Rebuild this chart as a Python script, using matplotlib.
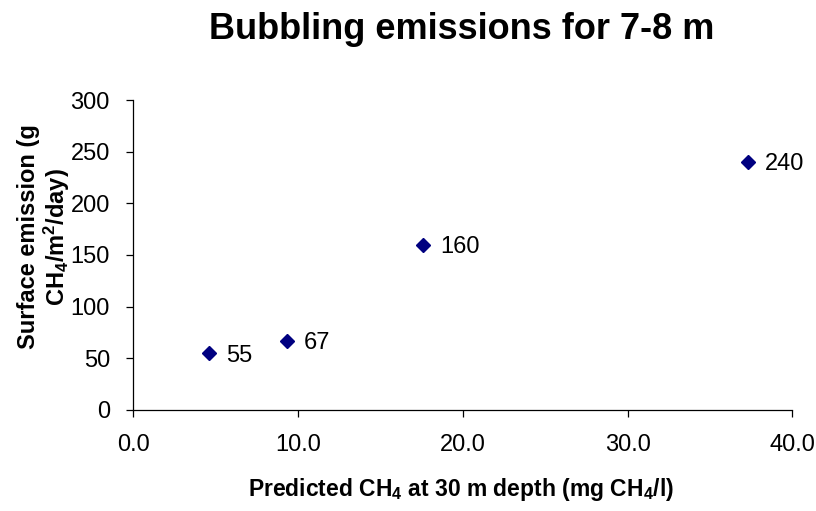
import matplotlib
matplotlib.use("Agg")
import matplotlib.pyplot as plt

# data
ch4_pred = [4.6, 9.3, 17.6, 37.3]        # predicted CH4 at 30 m (mg CH4/l)
emission = [55, 67, 160, 240]            # surface emission (g CH4/m2/day)
point_labels = ["55", "67", "160", "240"]

plt.rcParams['font.family'] = ['Liberation Sans', 'DejaVu Sans']
plt.rcParams['mathtext.fontset'] = 'custom'
plt.rcParams['mathtext.rm'] = 'Liberation Sans:bold'
plt.rcParams['mathtext.it'] = 'Liberation Sans:bold'
plt.rcParams['mathtext.bf'] = 'Liberation Sans:bold'
plt.rcParams['mathtext.default'] = 'rm'

fig = plt.figure(figsize=(8.16, 5.11), dpi=100)
ax = fig.add_axes([0.1636, 0.1977, 0.8076, 0.6066])

ax.plot(ch4_pred, emission, linestyle='none', marker='D', markersize=7.5,
        color='#000080', clip_on=False)
for x, y, t in zip(ch4_pred, emission, point_labels):
    ax.annotate(t, (x, y), xytext=(12, 0), textcoords='offset points',
                va='center_baseline', ha='left', fontsize=17)

ax.set_xlim(0, 40)
ax.set_ylim(0, 300)
ax.set_xticks([0, 10, 20, 30, 40])
ax.set_xticklabels(['0.0', '10.0', '20.0', '30.0', '40.0'])
ax.set_yticks(range(0, 301, 50))

for side in ['top', 'right']:
    ax.spines[side].set_visible(False)
for side in ['left', 'bottom']:
    ax.spines[side].set_linewidth(0.9)
ax.tick_params(direction='out', length=5, width=0.9, labelsize=17, pad=12)

ax.set_xlabel('Predicted CH$_4$ at 30 m depth (mg CH$_4$/l)',
              fontsize=16.5, fontweight='bold')
ax.xaxis.set_label_coords(0.497, -0.2145)
ax.set_ylabel('Surface emission (g\nCH$_4$/m$^2$/day)',
              fontsize=17, fontweight='bold', linespacing=1.1)
ax.yaxis.set_label_coords(-0.093, 0.558)

fig.text(0.566, 0.9237, 'Bubbling emissions for 7-8 m', ha='center', va='baseline',
         fontsize=26, fontweight='bold')

fig.savefig('out.png', dpi=100)
